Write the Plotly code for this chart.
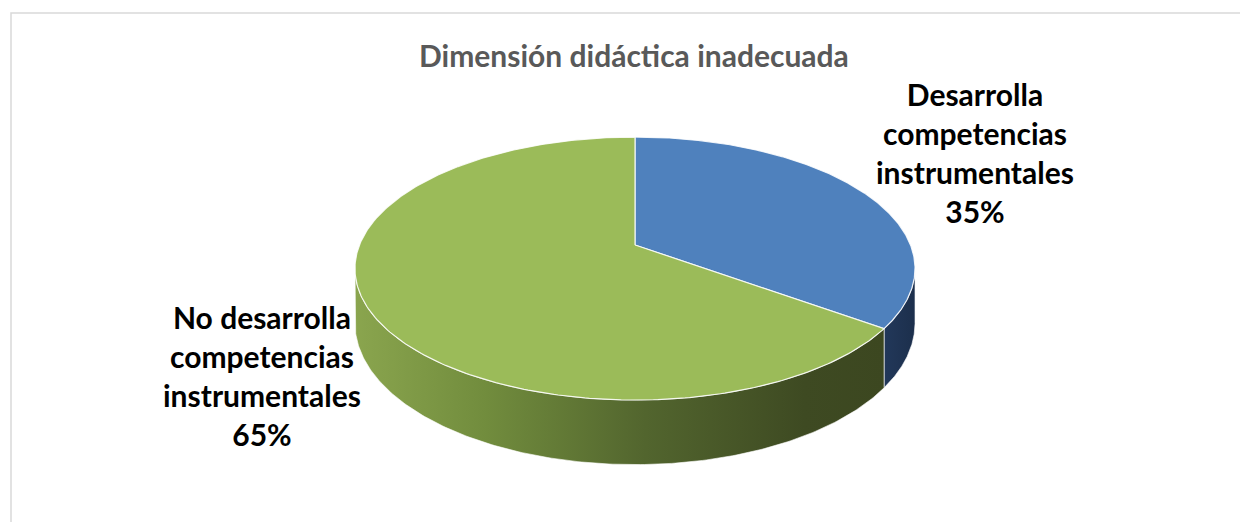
import numpy as np
import plotly.graph_objects as go

# ---- data ----
title_text = "Dimensión didáctica inadecuada"
categories = ["Desarrolla<br>competencias<br>instrumentales",
              "No desarrolla<br>competencias<br>instrumentales"]
values = [35, 65]
top_colors = ["#4F81BD", "#9BBB59"]
side_scales = [
    [[0, "#22385A"], [1, "#1C2F4C"]],
    [[0, "#8AA54E"], [0.25, "#718C3D"], [0.55, "#52652E"], [0.85, "#3E4A22"], [1, "#3C4720"]],
]

# ---- geometry (layout constants, pixels) ----
W, H = 1248, 522
OFF = 8                   # page body margin
CX, CY = 635, 245         # projected pie centre
R, RY = 275.5, 127.3      # radii
K = 0.179                 # perspective factor
DEPTH = 53                # thickness


def proj(theta_deg, drop=0.0):
    t = np.radians(theta_deg)
    u, v = np.sin(t), np.cos(t)
    w = 1 + K * v
    return CX + R * u / w, CY - RY * v / w + drop / w


total = sum(values)
angles = np.concatenate([[0], np.cumsum(values) / total * 360])
vis_lo = 90 + np.degrees(np.arcsin(K))
vis_hi = 270 - np.degrees(np.arcsin(K))

fig = go.Figure()

# side faces
for i in range(len(values)):
    a0, a1 = max(angles[i], vis_lo), min(angles[i + 1], vis_hi)
    if a1 <= a0:
        continue
    th = np.linspace(a0, a1, 200)
    xt, yt = proj(th)
    xb, yb = proj(th[::-1], DEPTH)
    xs = np.concatenate([xt, xb, xt[:1]])
    ys = np.concatenate([yt, yb, yt[:1]])
    fig.add_trace(go.Scatter(
        x=xs, y=ys, mode="lines", fill="toself",
        line=dict(color="rgba(255,255,255,0.6)", width=1),
        fillgradient=dict(type="horizontal", colorscale=side_scales[i],
                          start=float(xs.min()), stop=float(xs.max())),
        hoverinfo="skip", showlegend=False))

# top faces
for i in range(len(values)):
    th = np.linspace(angles[i], angles[i + 1], 300)
    xa, ya = proj(th)
    xs = np.concatenate([[CX], xa, [CX]])
    ys = np.concatenate([[CY], ya, [CY]])
    fig.add_trace(go.Scatter(
        x=xs, y=ys, mode="lines", fill="toself", fillcolor=top_colors[i],
        line=dict(color="rgba(255,255,255,0.85)", width=1.2),
        hoverinfo="skip", showlegend=False))

# labels
label_pos = [(975, 152.5), (262, 375.5)]
for i, (lx, ly) in enumerate(label_pos):
    fig.add_annotation(
        x=lx, y=ly, xref="x", yref="y", showarrow=False,
        text=f"<b>{categories[i]}<br>{values[i]}%</b>",
        font=dict(family="Lato, Carlito, sans-serif", size=30, color="#000000"),
        align="center")

fig.add_annotation(
    x=634, y=55, xref="x", yref="y", showarrow=False,
    text=f"<b>{title_text}</b>",
    font=dict(family="Lato, Carlito, sans-serif", size=30, color="#595959"))

# chart frame
fig.add_shape(type="rect", xref="x", yref="y", x0=11, y0=13, x1=1270, y1=545,
              line=dict(color="#D9D9D9", width=1.5), fillcolor="rgba(0,0,0,0)",
              layer="below")

fig.update_layout(
    width=W, height=H, margin=dict(l=0, r=0, t=0, b=0),
    paper_bgcolor="white", plot_bgcolor="white",
    xaxis=dict(range=[OFF, W + OFF], visible=False, fixedrange=True),
    yaxis=dict(range=[H + OFF, OFF], visible=False, fixedrange=True),
    showlegend=False)

fig.write_html("out.html")
